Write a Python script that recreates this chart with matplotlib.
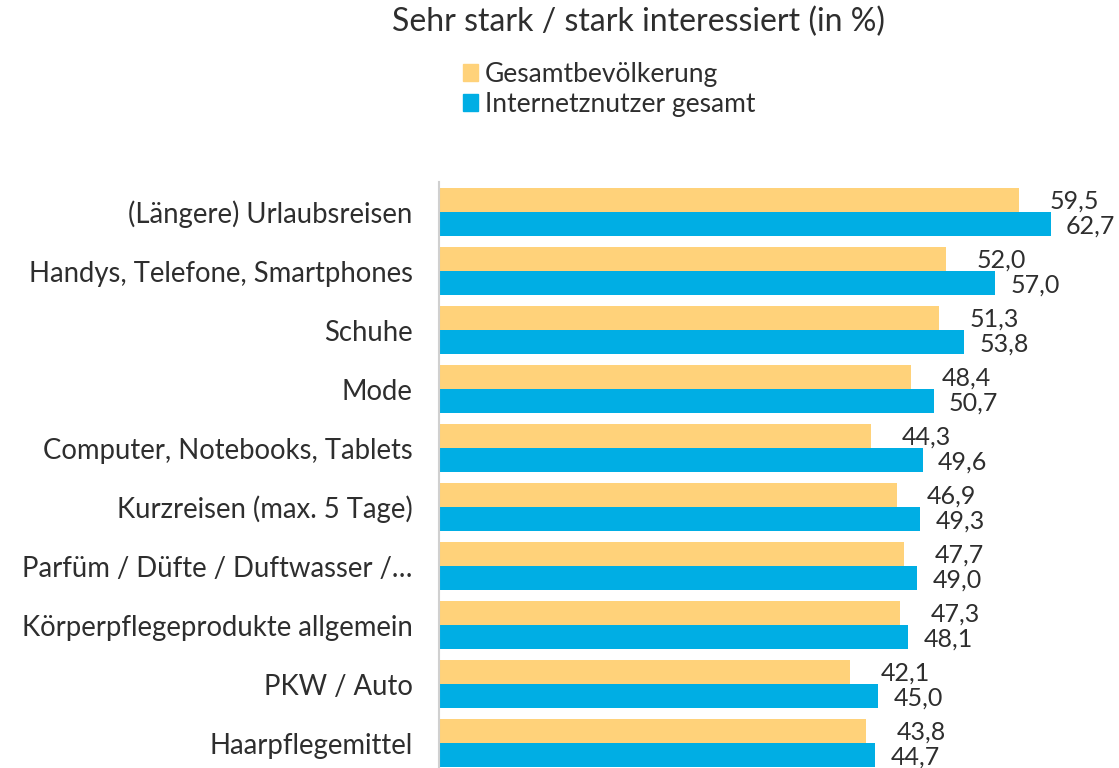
import matplotlib.pyplot as plt
import numpy as np
from matplotlib.patches import Patch

plt.rcParams['font.family'] = ['Lato', 'DejaVu Sans']

kategorien = ['(Längere) Urlaubsreisen', 'Handys, Telefone, Smartphones', 'Schuhe', 'Mode',
              'Computer, Notebooks, Tablets', 'Kurzreisen (max. 5 Tage)', 'Parfüm / Düfte / Duftwasser /…',
              'Körperpflegeprodukte allgemein', 'PKW / Auto', 'Haarpflegemittel']
gesamtbevoelkerung = [59.5, 52.0, 51.3, 48.4, 44.3, 46.9, 47.7, 47.3, 42.1, 43.8]
internetnutzer = [62.7, 57.0, 53.8, 50.7, 49.6, 49.3, 49.0, 48.1, 45.0, 44.7]
serien = ['Gesamtbevölkerung', 'Internetznutzer gesamt']

orange = '#FFD27A'
blau = '#00AEE4'
text_farbe = '#2e2e2e'

fig = plt.figure(figsize=(11.19, 7.68), dpi=100)
ax = fig.add_axes([439 / 1119, 0, 680 / 1119, 1 - 182 / 768])

y = np.arange(len(kategorien))
h = 0.41
ax.barh(y - h / 2, gesamtbevoelkerung, height=h, color=orange)
ax.barh(y + h / 2, internetnutzer, height=h, color=blau)

for i, (a, b) in enumerate(zip(gesamtbevoelkerung, internetnutzer)):
    ax.annotate(f'{a:.1f}'.replace('.', ','), (a, i - h / 2 + 0.02), xytext=(22, 0), textcoords='offset points',
                va='center', ha='left', fontsize=18, color=text_farbe)
    ax.annotate(f'{b:.1f}'.replace('.', ','), (b, i + h / 2 + 0.03), xytext=(11, 0), textcoords='offset points',
                va='center', ha='left', fontsize=18, color=text_farbe)

ax.set_xlim(0, 69.7)
ax.set_ylim(9.42, -0.51)
ax.set_yticks(y)
ax.set_yticklabels(kategorien, fontsize=19.8, color=text_farbe)
ax.tick_params(axis='y', length=0, pad=19)
ax.set_xticks([])
for s in ['top', 'right', 'bottom']:
    ax.spines[s].set_visible(False)
ax.spines['left'].set_color('#d0d0d0')
ax.spines['left'].set_linewidth(1.5)

fig.text(638 / 1119, 1 - 22 / 768, 'Sehr stark / stark interessiert (in %)', ha='center', va='center',
         fontsize=23, color=text_farbe)

handles = [Patch(color=orange), Patch(color=blau)]
leg = fig.legend(handles, serien, loc='upper left', bbox_to_anchor=(452 / 1119, 1 - 51 / 768),
                 frameon=False, fontsize=19, handlelength=0.6, handleheight=0.6, handletextpad=0.25,
                 labelspacing=0.2, borderaxespad=0)
for t in leg.get_texts():
    t.set_color(text_farbe)

plt.savefig('out.png')
plt.close()
